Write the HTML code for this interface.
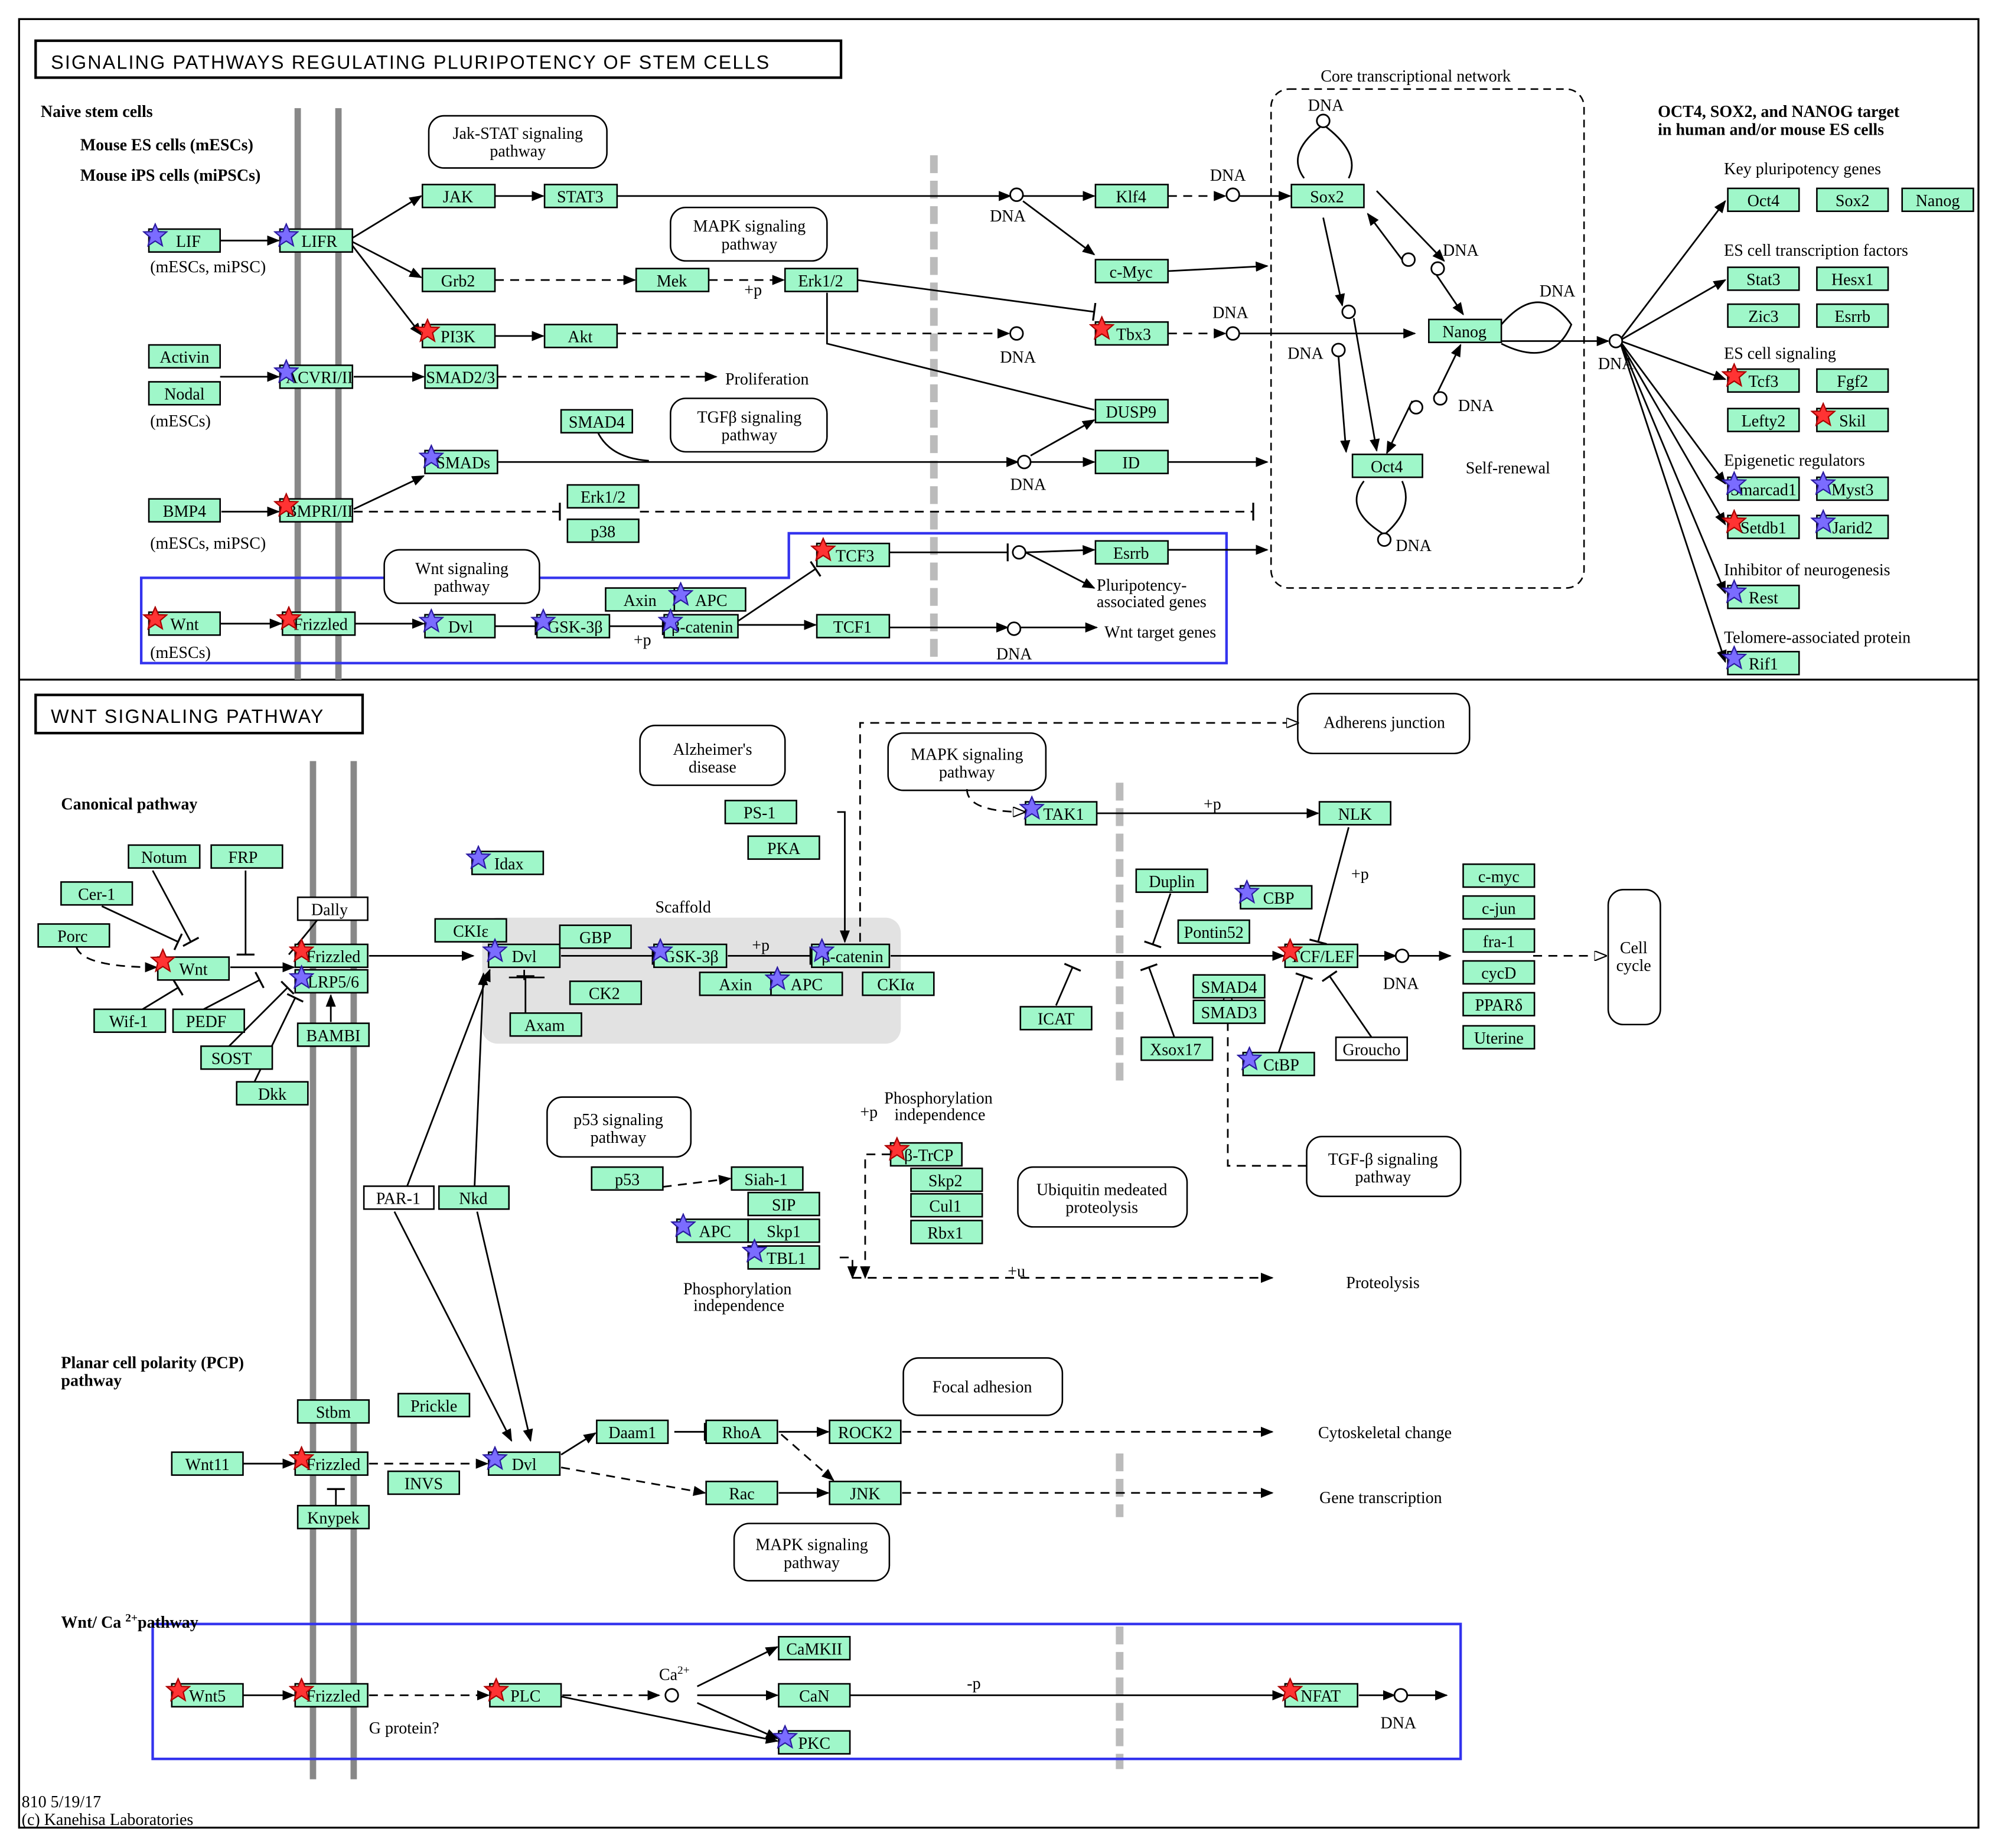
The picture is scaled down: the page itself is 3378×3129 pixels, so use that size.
<!DOCTYPE html>
<html><head><meta charset="utf-8"><style>
html,body{margin:0;padding:0;background:#fff}
svg{display:block}
text{font-family:"Liberation Serif",serif;font-size:13px;fill:#000}
.n rect{fill:#9ff7c9;stroke:#000;stroke-width:1.2}
.w rect{fill:#fff;stroke:#000;stroke-width:1.2}
.n text,.w text,.c{text-anchor:middle}
.m{fill:#fff;stroke:#000;stroke-width:1.2}
.e{fill:none;stroke:#000;stroke-width:1.3}
.d{fill:none;stroke:#000;stroke-width:1.3;stroke-dasharray:7,5}
.o{fill:#fff;stroke:#000;stroke-width:1.3}
.b{font-weight:bold}
</style></head><body>
<svg width="3378" height="3129" viewBox="0 0 1568 1452" preserveAspectRatio="none" xmlns="http://www.w3.org/2000/svg">
<defs>
<marker id="a" markerWidth="10" markerHeight="8" refX="9" refY="4" orient="auto" markerUnits="userSpaceOnUse"><path d="M0,0L10,4L0,8z"/></marker>
<marker id="oa" markerWidth="10" markerHeight="8" refX="9" refY="4" orient="auto" markerUnits="userSpaceOnUse"><path d="M0,0L10,4L0,8z" fill="#fff" stroke="#000"/></marker>
<marker id="t" markerWidth="2" markerHeight="14" refX="1" refY="7" orient="auto" markerUnits="userSpaceOnUse"><path d="M1,0V14" stroke="#000" stroke-width="1.5"/></marker>
<symbol id="sr" viewBox="-10 -10 20 20"><path d="M0,-9L2.6,-3L9,-2.8L4,1.5L5.6,8L0,4.4L-5.6,8L-4,1.5L-9,-2.8L-2.6,-3z" fill="#ff3333" stroke="#a00" stroke-width="1"/></symbol>
<symbol id="sb" viewBox="-10 -10 20 20"><path d="M0,-9L2.6,-3L9,-2.8L4,1.5L5.6,8L0,4.4L-5.6,8L-4,1.5L-9,-2.8L-2.6,-3z" fill="#7b6cff" stroke="#2a1aa0" stroke-width="1"/></symbol>
</defs>
<rect width="1568" height="1452" fill="#fff"/>
<!-- frames -->
<rect x="15" y="15" width="1540" height="1421" fill="none" stroke="#000" stroke-width="1.5"/>
<line x1="15" y1="534" x2="1555" y2="534" stroke="#000" stroke-width="1.5"/>
<rect x="28" y="32" width="633" height="29" fill="#fff" stroke="#000" stroke-width="2"/>
<text x="40" y="54" style="font-family:'Liberation Sans',sans-serif;font-size:15px;letter-spacing:1px">SIGNALING PATHWAYS REGULATING PLURIPOTENCY OF STEM CELLS</text>
<rect x="28" y="546" width="257" height="30" fill="#fff" stroke="#000" stroke-width="2"/>
<text x="40" y="568" style="font-family:'Liberation Sans',sans-serif;font-size:15px;letter-spacing:1px">WNT SIGNALING PATHWAY</text>
<!-- membranes -->
<g stroke="#888" stroke-width="5">
<line x1="234" y1="85" x2="234" y2="534"/><line x1="266" y1="85" x2="266" y2="534"/>
<line x1="246" y1="598" x2="246" y2="1398"/><line x1="278" y1="598" x2="278" y2="1398"/>
</g>
<g stroke="#bbb" stroke-width="6" stroke-dasharray="14,6">
<line x1="734" y1="122" x2="734" y2="522"/><line x1="880" y1="615" x2="880" y2="852"/>
<line x1="880" y1="1142" x2="880" y2="1192"/><line x1="880" y1="1278" x2="880" y2="1390"/>
</g>
<!-- regions -->
<rect x="999" y="70" width="246" height="392" rx="14" fill="none" stroke="#000" stroke-width="1.2" stroke-dasharray="6,4"/>
<rect x="379" y="721" width="329" height="99" rx="12" fill="#e2e2e2"/>
<path d="M111,454H620V419H964V521H111Z" fill="none" stroke="#3333ee" stroke-width="2"/>
<rect x="120" y="1276" width="1028" height="106" fill="none" stroke="#3333ee" stroke-width="2"/>
<!-- map boxes -->
<g>
<rect class="m" x="337" y="91" width="140" height="41" rx="12"/><text class="c" x="407" y="109">Jak-STAT signaling</text><text class="c" x="407" y="123">pathway</text>
<rect class="m" x="527" y="163" width="123" height="42" rx="12"/><text class="c" x="589" y="182">MAPK signaling</text><text class="c" x="589" y="196">pathway</text>
<rect class="m" x="527" y="313" width="123" height="42" rx="12"/><text class="c" x="589" y="332">TGFβ signaling</text><text class="c" x="589" y="346">pathway</text>
<rect class="m" x="302" y="432" width="122" height="42" rx="12"/><text class="c" x="363" y="451">Wnt signaling</text><text class="c" x="363" y="465">pathway</text>
<rect class="m" x="503" y="570" width="114" height="47" rx="12"/><text class="c" x="560" y="593">Alzheimer's</text><text class="c" x="560" y="607">disease</text>
<rect class="m" x="698" y="576" width="124" height="45" rx="12"/><text class="c" x="760" y="597">MAPK signaling</text><text class="c" x="760" y="611">pathway</text>
<rect class="m" x="1020" y="545" width="135" height="47" rx="12"/><text class="c" x="1088" y="572">Adherens junction</text>
<rect class="m" x="430" y="862" width="113" height="47" rx="12"/><text class="c" x="486" y="884">p53 signaling</text><text class="c" x="486" y="898">pathway</text>
<rect class="m" x="800" y="917" width="133" height="47" rx="12"/><text class="c" x="866" y="939">Ubiquitin medeated</text><text class="c" x="866" y="953">proteolysis</text>
<rect class="m" x="1027" y="893" width="121" height="47" rx="12"/><text class="c" x="1087" y="915">TGF-β signaling</text><text class="c" x="1087" y="929">pathway</text>
<rect class="m" x="710" y="1067" width="125" height="45" rx="12"/><text class="c" x="772" y="1094">Focal adhesion</text>
<rect class="m" x="577" y="1197" width="122" height="45" rx="12"/><text class="c" x="638" y="1218">MAPK signaling</text><text class="c" x="638" y="1232">pathway</text>
<rect class="m" x="1264" y="699" width="41" height="106" rx="12"/><text class="c" x="1284" y="749">Cell</text><text class="c" x="1284" y="763">cycle</text>
</g>
<!-- edges top -->
<g class="e" marker-end="url(#a)">
<line x1="173" y1="189" x2="219" y2="189"/>
<line x1="277" y1="187" x2="331" y2="154"/>
<line x1="277" y1="190" x2="331" y2="218"/>
<line x1="277" y1="193" x2="331" y2="263"/>
<line x1="389" y1="154" x2="427" y2="154"/>
<line x1="485" y1="154" x2="794" y2="154"/>
<line x1="804" y1="154" x2="860" y2="154"/>
<line x1="804" y1="158" x2="860" y2="200"/>
<line x1="974" y1="154" x2="1014" y2="154"/>
<line x1="918" y1="213" x2="996" y2="209"/>
<line x1="389" y1="264" x2="427" y2="264"/>
<line x1="173" y1="296" x2="219" y2="296"/>
<line x1="278" y1="296" x2="333" y2="296"/>
<line x1="278" y1="400" x2="333" y2="374"/>
<line x1="391" y1="363" x2="800" y2="363"/>
<line x1="810" y1="363" x2="860" y2="363"/>
<line x1="810" y1="358" x2="860" y2="330"/>
<line x1="918" y1="363" x2="996" y2="363"/>
<line x1="918" y1="432" x2="996" y2="432"/>
<line x1="974" y1="262" x2="1112" y2="262"/>
<line x1="173" y1="490" x2="221" y2="490"/>
<line x1="279" y1="490" x2="333" y2="490"/>
<line x1="580" y1="491" x2="641" y2="491"/>
<line x1="699" y1="493" x2="792" y2="493"/>
<line x1="802" y1="493" x2="862" y2="493"/>
<line x1="806" y1="434" x2="860" y2="432"/>
<line x1="806" y1="434" x2="860" y2="462"/>
<line x1="174" y1="402" x2="219" y2="402"/>
<line x1="1082" y1="150" x2="1135" y2="205"/>
<line x1="1040" y1="171" x2="1055" y2="240"/>
<line x1="1064" y1="250" x2="1082" y2="354"/>
<line x1="1052" y1="280" x2="1058" y2="355"/>
<line x1="1105" y1="208" x2="1075" y2="168"/>
<line x1="1129" y1="216" x2="1150" y2="247"/>
<line x1="1110" y1="315" x2="1090" y2="356"/>
<line x1="1130" y1="308" x2="1148" y2="271"/>
<line x1="1180" y1="268" x2="1264" y2="268"/>
<line x1="1274" y1="266" x2="1356" y2="158"/>
<line x1="1274" y1="267" x2="1356" y2="220"/>
<line x1="1274" y1="268" x2="1356" y2="298"/>
<line x1="1274" y1="269" x2="1356" y2="380"/>
<line x1="1274" y1="270" x2="1356" y2="412"/>
<line x1="1274" y1="270" x2="1356" y2="466"/>
<line x1="1274" y1="271" x2="1356" y2="520"/>
</g>
<g class="d" marker-end="url(#a)">
<line x1="389" y1="220" x2="499" y2="220"/>
<line x1="557" y1="220" x2="616" y2="220"/>
<line x1="485" y1="262" x2="793" y2="262"/>
<line x1="918" y1="154" x2="963" y2="154"/>
<line x1="918" y1="262" x2="963" y2="262"/>
<line x1="391" y1="296" x2="563" y2="296"/>
</g>
<g class="e" marker-end="url(#t)">
<line x1="674" y1="220" x2="860" y2="245"/>
<line x1="389" y1="492" x2="421" y2="492"/>
<line x1="479" y1="492" x2="521" y2="492"/>
<line x1="580" y1="488" x2="641" y2="447"/>
<line x1="699" y1="434" x2="792" y2="434"/>
</g>
<path class="e" d="M650,230V270L860,322"/>
<path class="d" d="M278,402H440" marker-end="url(#t)"/>
<path class="d" d="M503,402H985" marker-end="url(#t)"/>
<path class="e" d="M470,340Q480,360 510,362"/>
<path class="e" d="M1040,98Q1010,120 1025,140M1040,98Q1070,120 1060,140"/>
<path class="e" d="M1088,420Q1055,400 1072,378M1088,420Q1112,400 1102,378"/>
<path class="e" d="M1180,255Q1210,220 1235,255Q1220,290 1180,270"/>
<!-- circles top -->
<g class="o">
<circle cx="799" cy="153" r="5"/><circle cx="969" cy="153" r="5"/><circle cx="799" cy="262" r="5"/><circle cx="969" cy="262" r="5"/><circle cx="805" cy="363" r="5"/><circle cx="801" cy="434" r="5"/><circle cx="797" cy="494" r="5"/><circle cx="1040" cy="95" r="5"/><circle cx="1107" cy="204" r="5"/><circle cx="1130" cy="211" r="5"/><circle cx="1060" cy="245" r="5"/><circle cx="1052" cy="275" r="5"/><circle cx="1113" cy="320" r="5"/><circle cx="1132" cy="313" r="5"/><circle cx="1088" cy="424" r="5"/><circle cx="1270" cy="268" r="5"/>
</g>
<!-- top labels -->
<g>
<text x="32" y="92" class="b">Naive stem cells</text>
<text x="63" y="118" class="b">Mouse ES cells (mESCs)</text>
<text x="63" y="142" class="b">Mouse iPS cells (miPSCs)</text>
<text x="118" y="214">(mESCs, miPSC)</text>
<text x="118" y="335">(mESCs)</text>
<text x="118" y="431">(mESCs, miPSC)</text>
<text x="118" y="517">(mESCs)</text>
<text x="585" y="232">+p</text><text x="498" y="507">+p</text>
<text x="570" y="302">Proliferation</text>
<text x="862" y="464">Pluripotency-</text><text x="862" y="477">associated genes</text>
<text x="868" y="501">Wnt target genes</text>
<text x="778" y="174">DNA</text><text x="951" y="142">DNA</text><text x="786" y="285">DNA</text><text x="953" y="250">DNA</text><text x="794" y="385">DNA</text><text x="783" y="518">DNA</text>
<text x="1028" y="87">DNA</text><text x="1134" y="201">DNA</text><text x="1012" y="282">DNA</text><text x="1146" y="323">DNA</text><text x="1097" y="433">DNA</text><text x="1210" y="233">DNA</text><text x="1256" y="290">DNA</text>
<text x="1038" y="64">Core transcriptional network</text>
<text x="1152" y="372">Self-renewal</text>
<text x="1303" y="92" class="b">OCT4, SOX2, and NANOG target</text>
<text x="1303" y="106" class="b">in human and/or mouse ES cells</text>
<text x="1355" y="137">Key pluripotency genes</text>
<text x="1355" y="201">ES cell transcription factors</text>
<text x="1355" y="282">ES cell signaling</text>
<text x="1355" y="366">Epigenetic regulators</text>
<text x="1355" y="452">Inhibitor of neurogenesis</text>
<text x="1355" y="505">Telomere-associated protein</text>
</g>
<!-- top nodes -->
<g class="n">
<rect x="117" y="180" width="56" height="18"/><text x="148" y="194">LIF</text>
<rect x="220" y="180" width="57" height="18"/><text x="251" y="194">LIFR</text>
<rect x="332" y="145" width="57" height="18"/><text x="360" y="159">JAK</text>
<rect x="428" y="145" width="57" height="18"/><text x="456" y="159">STAT3</text>
<rect x="332" y="211" width="57" height="18"/><text x="360" y="225">Grb2</text>
<rect x="500" y="211" width="57" height="18"/><text x="528" y="225">Mek</text>
<rect x="617" y="211" width="57" height="18"/><text x="645" y="225">Erk1/2</text>
<rect x="332" y="255" width="57" height="18"/><text x="360" y="269">PI3K</text>
<rect x="428" y="255" width="57" height="18"/><text x="456" y="269">Akt</text>
<rect x="117" y="271" width="56" height="18"/><text x="145" y="285">Activin</text>
<rect x="117" y="300" width="56" height="18"/><text x="145" y="314">Nodal</text>
<rect x="220" y="287" width="57" height="18"/><text x="251" y="301">ACVRI/II</text>
<rect x="334" y="287" width="57" height="18"/><text x="362" y="301">SMAD2/3</text>
<rect x="441" y="322" width="56" height="18"/><text x="469" y="336">SMAD4</text>
<rect x="334" y="354" width="57" height="18"/><text x="364" y="368">SMADs</text>
<rect x="117" y="392" width="56" height="18"/><text x="145" y="406">BMP4</text>
<rect x="220" y="392" width="57" height="18"/><text x="251" y="406">BMPRI/II</text>
<rect x="446" y="381" width="56" height="18"/><text x="474" y="395">Erk1/2</text>
<rect x="446" y="408" width="56" height="18"/><text x="474" y="422">p38</text>
<rect x="861" y="145" width="57" height="18"/><text x="889" y="159">Klf4</text>
<rect x="861" y="204" width="57" height="18"/><text x="889" y="218">c-Myc</text>
<rect x="861" y="253" width="57" height="18"/><text x="891" y="267">Tbx3</text>
<rect x="861" y="314" width="57" height="18"/><text x="889" y="328">DUSP9</text>
<rect x="861" y="354" width="57" height="18"/><text x="889" y="368">ID</text>
<rect x="861" y="425" width="57" height="18"/><text x="889" y="439">Esrrb</text>
<rect x="642" y="427" width="57" height="18"/><text x="672" y="441">TCF3</text>
<rect x="476" y="462" width="56" height="18"/><text x="503" y="476">Axin</text>
<rect x="530" y="462" width="56" height="18"/><text x="559" y="476">APC</text>
<rect x="117" y="481" width="56" height="18"/><text x="145" y="495">Wnt</text>
<rect x="222" y="481" width="57" height="18"/><text x="252" y="495">Frizzled</text>
<rect x="334" y="483" width="55" height="18"/><text x="362" y="497">Dvl</text>
<rect x="422" y="483" width="57" height="18"/><text x="452" y="497">GSK-3β</text>
<rect x="522" y="483" width="58" height="18"/><text x="552" y="497">β-catenin</text>
<rect x="642" y="483" width="57" height="18"/><text x="670" y="497">TCF1</text>
<rect x="1015" y="145" width="57" height="18"/><text x="1043" y="159">Sox2</text>
<rect x="1123" y="251" width="57" height="18"/><text x="1151" y="265">Nanog</text>
<rect x="1063" y="357" width="55" height="18"/><text x="1090" y="371">Oct4</text>
<rect x="1358" y="148" width="56" height="18"/><text x="1386" y="162">Oct4</text>
<rect x="1428" y="148" width="56" height="18"/><text x="1456" y="162">Sox2</text>
<rect x="1495" y="148" width="56" height="18"/><text x="1523" y="162">Nanog</text>
<rect x="1358" y="210" width="56" height="18"/><text x="1386" y="224">Stat3</text>
<rect x="1428" y="210" width="56" height="18"/><text x="1456" y="224">Hesx1</text>
<rect x="1358" y="239" width="56" height="18"/><text x="1386" y="253">Zic3</text>
<rect x="1428" y="239" width="56" height="18"/><text x="1456" y="253">Esrrb</text>
<rect x="1358" y="290" width="56" height="18"/><text x="1386" y="304">Tcf3</text>
<rect x="1428" y="290" width="56" height="18"/><text x="1456" y="304">Fgf2</text>
<rect x="1358" y="321" width="56" height="18"/><text x="1386" y="335">Lefty2</text>
<rect x="1428" y="321" width="56" height="18"/><text x="1456" y="335">Skil</text>
<rect x="1358" y="375" width="56" height="18"/><text x="1386" y="389">Smarcad1</text>
<rect x="1428" y="375" width="56" height="18"/><text x="1456" y="389">Myst3</text>
<rect x="1358" y="405" width="56" height="18"/><text x="1386" y="419">Setdb1</text>
<rect x="1428" y="405" width="56" height="18"/><text x="1456" y="419">Jarid2</text>
<rect x="1358" y="460" width="56" height="18"/><text x="1386" y="474">Rest</text>
<rect x="1358" y="512" width="56" height="18"/><text x="1386" y="526">Rif1</text>
</g>
<!-- bottom edges -->
<g class="e" marker-end="url(#a)">
<line x1="181" y1="760" x2="231" y2="760"/>
<line x1="290" y1="751" x2="372" y2="751"/>
<line x1="260" y1="803" x2="260" y2="782"/>
<line x1="700" y1="751" x2="1009" y2="751"/>
<line x1="1068" y1="751" x2="1097" y2="751"/>
<line x1="1107" y1="751" x2="1140" y2="751"/>
<line x1="862" y1="639" x2="1036" y2="639"/>
<line x1="320" y1="932" x2="385" y2="762"/>
<line x1="310" y1="952" x2="402" y2="1132"/>
<line x1="373" y1="932" x2="380" y2="765"/>
<line x1="375" y1="952" x2="417" y2="1132"/>
<line x1="191" y1="1150" x2="231" y2="1150"/>
<line x1="441" y1="1143" x2="468" y2="1126"/>
<line x1="612" y1="1125" x2="651" y2="1125"/>
<line x1="612" y1="1173" x2="651" y2="1173"/>
<line x1="191" y1="1332" x2="231" y2="1332"/>
<line x1="548" y1="1325" x2="611" y2="1294"/>
<line x1="548" y1="1332" x2="611" y2="1332"/>
<line x1="548" y1="1338" x2="611" y2="1366"/>
<line x1="441" y1="1333" x2="611" y2="1368"/>
<line x1="668" y1="1332" x2="1009" y2="1332"/>
<line x1="1068" y1="1332" x2="1096" y2="1332"/>
<line x1="1106" y1="1332" x2="1137" y2="1332"/>
<path d="M658,638H664V740"/>
</g>
<g class="d" marker-end="url(#a)">
<path d="M60,744Q65,760 123,760"/>
<line x1="290" y1="1150" x2="383" y2="1150"/>
<line x1="441" y1="1153" x2="554" y2="1173"/>
<line x1="709" y1="1125" x2="1000" y2="1125"/>
<line x1="709" y1="1173" x2="1000" y2="1173"/>
<line x1="614" y1="1127" x2="655" y2="1163"/>
<line x1="290" y1="1332" x2="384" y2="1332"/>
<line x1="442" y1="1332" x2="518" y2="1332"/>
<line x1="509" y1="934" x2="574" y2="926"/>
<line x1="670" y1="1004" x2="1000" y2="1004"/>
<path d="M676,740V568H1020" marker-end="url(#oa)"/>
<path d="M760,620Q760,638 805,638" marker-end="url(#oa)"/>
<path d="M1205,751H1262" marker-end="url(#oa)"/>
<path d="M1027,916H965V778" marker-end="url(#oa)"/>
<path d="M700,907H680V1004"/>
<path d="M660,988H670V1004"/>
</g>
<g class="e" marker-end="url(#t)">
<line x1="120" y1="684" x2="150" y2="740"/>
<line x1="80" y1="712" x2="140" y2="740"/>
<line x1="193" y1="684" x2="193" y2="750"/>
<line x1="112" y1="793" x2="140" y2="776"/>
<line x1="160" y1="793" x2="204" y2="770"/>
<line x1="180" y1="822" x2="226" y2="776"/>
<line x1="200" y1="850" x2="232" y2="784"/>
<line x1="441" y1="751" x2="513" y2="751"/>
<line x1="572" y1="751" x2="637" y2="751"/>
<line x1="920" y1="702" x2="906" y2="742"/>
<line x1="1060" y1="650" x2="1036" y2="740"/>
<line x1="830" y1="790" x2="843" y2="760"/>
<line x1="923" y1="815" x2="903" y2="760"/>
<line x1="1005" y1="827" x2="1025" y2="767"/>
<line x1="1078" y1="815" x2="1045" y2="767"/>
<line x1="413" y1="796" x2="413" y2="767"/>
<line x1="530" y1="1125" x2="554" y2="1125"/>
<path d="M264,1183V1170"/>
</g>
<path class="e" d="M227,750Q240,735 250,722M412,762V770M400,768H428"/>
<g class="o"><circle cx="1102" cy="751" r="5"/><circle cx="1101" cy="1332" r="5"/><circle cx="528" cy="1332" r="5"/></g>
<!-- bottom labels -->
<g>
<text x="48" y="636" class="b">Canonical pathway</text>
<text x="515" y="717">Scaffold</text>
<text x="591" y="747">+p</text><text x="946" y="636">+p</text><text x="1062" y="691">+p</text><text x="676" y="878">+p</text><text x="792" y="1003">+u</text><text x="760" y="1327">-p</text>
<text x="1087" y="777">DNA</text><text x="1085" y="1358">DNA</text>
<text x="695" y="867">Phosphorylation</text><text x="703" y="880">independence</text>
<text x="537" y="1017">Phosphorylation</text><text x="545" y="1030">independence</text>
<text x="1058" y="1012">Proteolysis</text>
<text x="1036" y="1130">Cytoskeletal change</text>
<text x="1037" y="1181">Gene transcription</text>
<text x="48" y="1075" class="b">Planar cell polarity (PCP)</text>
<text x="48" y="1089" class="b">pathway</text>
<text x="48" y="1279" class="b">Wnt/ Ca <tspan font-size="9" dy="-5">2+</tspan><tspan dy="5">pathway</tspan></text>
<text x="518" y="1320">Ca<tspan font-size="9" dy="-5">2+</tspan></text>
<text x="290" y="1362">G protein?</text>
<text x="17" y="1420" font-size="12">810 5/19/17</text>
<text x="17" y="1434" font-size="12">(c) Kanehisa Laboratories</text>
</g>
<!-- bottom nodes -->
<g class="w">
<rect x="234" y="705" width="55" height="18"/><text x="259" y="719">Dally</text>
<rect x="286" y="932" width="55" height="18"/><text x="313" y="946">PAR-1</text>
<rect x="1050" y="815" width="56" height="18"/><text x="1078" y="829">Groucho</text>
</g>
<g class="n">
<rect x="101" y="664" width="56" height="18"/><text x="129" y="678">Notum</text>
<rect x="166" y="664" width="56" height="18"/><text x="191" y="678">FRP</text>
<rect x="48" y="693" width="56" height="18"/><text x="76" y="707">Cer-1</text>
<rect x="30" y="726" width="56" height="18"/><text x="57" y="740">Porc</text>
<rect x="124" y="752" width="56" height="18"/><text x="152" y="766">Wnt</text>
<rect x="232" y="742" width="57" height="18"/><text x="262" y="756">Frizzled</text>
<rect x="232" y="762" width="57" height="18"/><text x="262" y="776">LRP5/6</text>
<rect x="234" y="804" width="56" height="18"/><text x="262" y="818">BAMBI</text>
<rect x="74" y="793" width="56" height="18"/><text x="101" y="807">Wif-1</text>
<rect x="136" y="793" width="56" height="18"/><text x="162" y="807">PEDF</text>
<rect x="158" y="822" width="56" height="18"/><text x="182" y="836">SOST</text>
<rect x="186" y="850" width="56" height="18"/><text x="214" y="864">Dkk</text>
<rect x="342" y="722" width="56" height="18"/><text x="370" y="736">CKIε</text>
<rect x="371" y="669" width="56" height="18"/><text x="400" y="683">Idax</text>
<rect x="384" y="742" width="56" height="18"/><text x="412" y="756">Dvl</text>
<rect x="440" y="727" width="56" height="18"/><text x="468" y="741">GBP</text>
<rect x="448" y="771" width="56" height="18"/><text x="475" y="785">CK2</text>
<rect x="401" y="796" width="56" height="18"/><text x="428" y="810">Axam</text>
<rect x="514" y="742" width="57" height="18"/><text x="543" y="756">GSK-3β</text>
<rect x="550" y="764" width="56" height="18"/><text x="578" y="778">Axin</text>
<rect x="606" y="764" width="56" height="18"/><text x="634" y="778">APC</text>
<rect x="638" y="742" width="61" height="18"/><text x="670" y="756">β-catenin</text>
<rect x="678" y="764" width="56" height="18"/><text x="704" y="778">CKIα</text>
<rect x="570" y="629" width="56" height="18"/><text x="597" y="643">PS-1</text>
<rect x="588" y="657" width="56" height="18"/><text x="616" y="671">PKA</text>
<rect x="806" y="630" width="56" height="18"/><text x="836" y="644">TAK1</text>
<rect x="1037" y="630" width="56" height="18"/><text x="1065" y="644">NLK</text>
<rect x="893" y="683" width="56" height="18"/><text x="921" y="697">Duplin</text>
<rect x="975" y="696" width="56" height="18"/><text x="1005" y="710">CBP</text>
<rect x="926" y="723" width="56" height="18"/><text x="954" y="737">Pontin52</text>
<rect x="1010" y="742" width="57" height="18"/><text x="1039" y="756">TCF/LEF</text>
<rect x="938" y="766" width="56" height="18"/><text x="966" y="780">SMAD4</text>
<rect x="938" y="786" width="56" height="18"/><text x="966" y="800">SMAD3</text>
<rect x="802" y="791" width="56" height="18"/><text x="830" y="805">ICAT</text>
<rect x="897" y="815" width="56" height="18"/><text x="924" y="829">Xsox17</text>
<rect x="977" y="827" width="56" height="18"/><text x="1007" y="841">CtBP</text>
<rect x="1150" y="679" width="56" height="18"/><text x="1178" y="693">c-myc</text>
<rect x="1150" y="704" width="56" height="18"/><text x="1178" y="718">c-jun</text>
<rect x="1150" y="730" width="56" height="18"/><text x="1178" y="744">fra-1</text>
<rect x="1150" y="755" width="56" height="18"/><text x="1178" y="769">cycD</text>
<rect x="1150" y="780" width="56" height="18"/><text x="1178" y="794">PPARδ</text>
<rect x="1150" y="806" width="56" height="18"/><text x="1178" y="820">Uterine</text>
<rect x="345" y="932" width="55" height="18"/><text x="372" y="946">Nkd</text>
<rect x="465" y="917" width="56" height="18"/><text x="493" y="931">p53</text>
<rect x="575" y="917" width="56" height="18"/><text x="602" y="931">Siah-1</text>
<rect x="588" y="937" width="56" height="18"/><text x="616" y="951">SIP</text>
<rect x="588" y="958" width="56" height="18"/><text x="616" y="972">Skp1</text>
<rect x="588" y="979" width="56" height="18"/><text x="618" y="993">TBL1</text>
<rect x="532" y="958" width="56" height="18"/><text x="562" y="972">APC</text>
<rect x="700" y="898" width="56" height="18"/><text x="730" y="912">β-TrCP</text>
<rect x="716" y="918" width="56" height="18"/><text x="743" y="932">Skp2</text>
<rect x="716" y="938" width="56" height="18"/><text x="743" y="952">Cul1</text>
<rect x="716" y="959" width="56" height="18"/><text x="743" y="973">Rbx1</text>
<rect x="234" y="1100" width="56" height="18"/><text x="262" y="1114">Stbm</text>
<rect x="313" y="1095" width="56" height="18"/><text x="341" y="1109">Prickle</text>
<rect x="135" y="1141" width="56" height="18"/><text x="163" y="1155">Wnt11</text>
<rect x="232" y="1141" width="57" height="18"/><text x="262" y="1155">Frizzled</text>
<rect x="305" y="1156" width="56" height="18"/><text x="333" y="1170">INVS</text>
<rect x="384" y="1141" width="56" height="18"/><text x="412" y="1155">Dvl</text>
<rect x="234" y="1183" width="56" height="18"/><text x="262" y="1197">Knypek</text>
<rect x="469" y="1116" width="56" height="18"/><text x="497" y="1130">Daam1</text>
<rect x="555" y="1116" width="56" height="18"/><text x="583" y="1130">RhoA</text>
<rect x="652" y="1116" width="56" height="18"/><text x="680" y="1130">ROCK2</text>
<rect x="555" y="1164" width="56" height="18"/><text x="583" y="1178">Rac</text>
<rect x="652" y="1164" width="56" height="18"/><text x="680" y="1178">JNK</text>
<rect x="135" y="1323" width="56" height="18"/><text x="163" y="1337">Wnt5</text>
<rect x="232" y="1323" width="57" height="18"/><text x="262" y="1337">Frizzled</text>
<rect x="385" y="1323" width="56" height="18"/><text x="413" y="1337">PLC</text>
<rect x="612" y="1286" width="56" height="18"/><text x="640" y="1300">CaMKII</text>
<rect x="612" y="1323" width="56" height="18"/><text x="640" y="1337">CaN</text>
<rect x="612" y="1360" width="56" height="18"/><text x="640" y="1374">PKC</text>
<rect x="1010" y="1323" width="57" height="18"/><text x="1038" y="1337">NFAT</text>
</g>
<!-- stars -->
<g>
<use href="#sb" x="112" y="175" width="20" height="20"/>
<use href="#sb" x="215" y="175" width="20" height="20"/>
<use href="#sr" x="326" y="250" width="20" height="20"/>
<use href="#sb" x="215" y="282" width="20" height="20"/>
<use href="#sb" x="329" y="349" width="20" height="20"/>
<use href="#sr" x="215" y="387" width="20" height="20"/>
<use href="#sr" x="856" y="248" width="20" height="20"/>
<use href="#sr" x="637" y="422" width="20" height="20"/>
<use href="#sb" x="525" y="457" width="20" height="20"/>
<use href="#sr" x="112" y="476" width="20" height="20"/>
<use href="#sr" x="217" y="476" width="20" height="20"/>
<use href="#sb" x="329" y="478" width="20" height="20"/>
<use href="#sb" x="417" y="478" width="20" height="20"/>
<use href="#sb" x="517" y="478" width="20" height="20"/>
<use href="#sr" x="1353" y="285" width="20" height="20"/>
<use href="#sr" x="1423" y="316" width="20" height="20"/>
<use href="#sb" x="1353" y="370" width="20" height="20"/>
<use href="#sb" x="1423" y="370" width="20" height="20"/>
<use href="#sr" x="1353" y="400" width="20" height="20"/>
<use href="#sb" x="1423" y="400" width="20" height="20"/>
<use href="#sb" x="1353" y="455" width="20" height="20"/>
<use href="#sb" x="1353" y="507" width="20" height="20"/>
<use href="#sr" x="118" y="745" width="20" height="20"/>
<use href="#sr" x="227" y="737" width="20" height="20"/>
<use href="#sb" x="227" y="758" width="20" height="20"/>
<use href="#sb" x="366" y="664" width="20" height="20"/>
<use href="#sb" x="379" y="737" width="20" height="20"/>
<use href="#sb" x="509" y="737" width="20" height="20"/>
<use href="#sb" x="601" y="759" width="20" height="20"/>
<use href="#sb" x="636" y="737" width="20" height="20"/>
<use href="#sb" x="801" y="625" width="20" height="20"/>
<use href="#sb" x="970" y="691" width="20" height="20"/>
<use href="#sr" x="1004" y="737" width="20" height="20"/>
<use href="#sb" x="972" y="822" width="20" height="20"/>
<use href="#sb" x="527" y="953" width="20" height="20"/>
<use href="#sb" x="583" y="973" width="20" height="20"/>
<use href="#sr" x="695" y="893" width="20" height="20"/>
<use href="#sr" x="227" y="1136" width="20" height="20"/>
<use href="#sb" x="379" y="1136" width="20" height="20"/>
<use href="#sr" x="130" y="1318" width="20" height="20"/>
<use href="#sr" x="227" y="1318" width="20" height="20"/>
<use href="#sr" x="380" y="1318" width="20" height="20"/>
<use href="#sb" x="607" y="1355" width="20" height="20"/>
<use href="#sr" x="1004" y="1318" width="20" height="20"/>
</g>
</svg>
</body></html>
